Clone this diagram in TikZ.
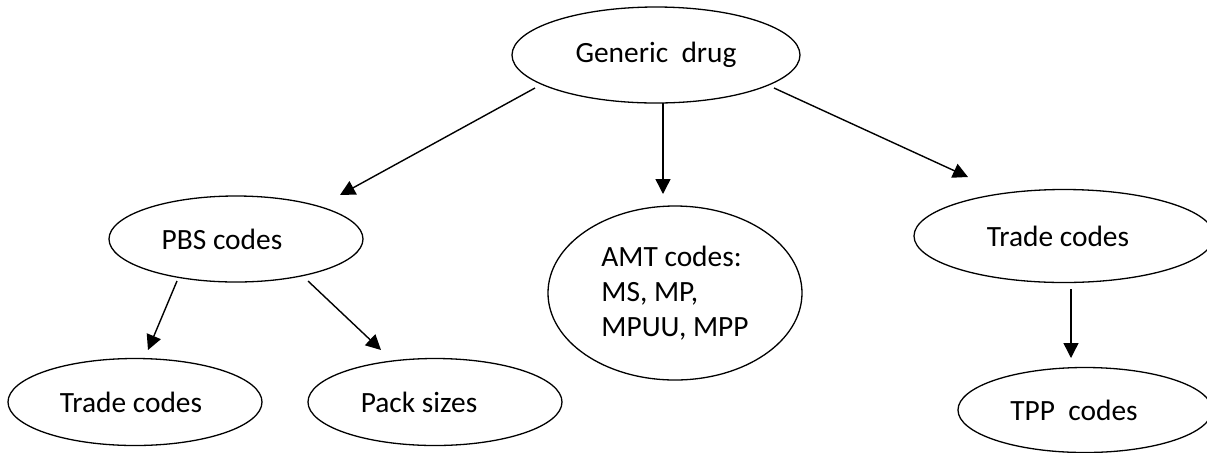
\documentclass[tikz,border=0pt]{standalone}
\usepackage{fontspec}
\setmainfont{Carlito}
\usetikzlibrary{shapes.geometric,arrows.meta,calc}
\tikzstyle{bubble}=[ellipse, draw=black, line width=0.65pt, inner sep=0pt, minimum width=127pt, minimum height=43pt, anchor=center, font=\fontsize{14.7pt}{17.5pt}\selectfont]
\tikzstyle{link}=[line width=0.7pt, -{Triangle[length=7.5pt, width=7.5pt]}]

\begin{document}
\begin{tikzpicture}[x=0.5pt, y=-0.5pt]
	\useasboundingbox (0,0) rectangle (1207,452);
	\clip (0,0) rectangle (1207,452);

	% top level
	\node[bubble, minimum width=144pt, minimum height=48pt](drug) at (656,55){Generic\ \ drug};

	% second level
	\node[bubble](pbs) at (236,239){PBS codes\hspace*{14pt}};
	\node[bubble, minimum height=87pt, align=left](amt) at (675,293){AMT codes:\\MS, MP,\\MPUU, MPP};
	\node[bubble, minimum width=150pt, minimum height=46.5pt](trade) at (1064,236){Trade codes\hspace*{6pt}};

	% third level
	\node[bubble, minimum height=43.5pt](pbstrade) at (135,402){Trade codes\hspace*{4pt}};
	\node[bubble, minimum height=43.5pt](pack) at (435,402){Pack sizes\hspace*{16pt}};
	\node[bubble, minimum height=42.5pt](tpp) at (1085,410){TPP\ \ codes\hspace*{11pt}};

	% arrow ends
	\coordinate (drugL) at ($(drug)+(-121,33)$);
	\coordinate (drugM) at ($(drug)+(7,48)$);
	\coordinate (drugR) at ($(drug)+(118,33)$);
	\coordinate (pbsT) at ($(pbs)+(104,-44)$);
	\coordinate (amtT) at ($(amt)+(-12,-99)$);
	\coordinate (tradeT) at ($(trade)+(-96,-59)$);
	\coordinate (pbsL) at ($(pbs)+(-59,42)$);
	\coordinate (pbsR) at ($(pbs)+(72,42)$);
	\coordinate (pbstradeT) at ($(pbstrade)+(13,-52)$);
	\coordinate (packT) at ($(pack)+(-54,-52)$);
	\coordinate (tradeB) at ($(trade)+(7,53)$);
	\coordinate (tppT) at ($(tpp)+(-14,-52)$);

	\draw[link] (drugL) -- (pbsT);
	\draw[link] (drugM) -- (amtT);
	\draw[link] (drugR) -- (tradeT);
	\draw[link] (pbsL) -- (pbstradeT);
	\draw[link] (pbsR) -- (packT);
	\draw[link] (tradeB) -- (tppT);

\end{tikzpicture}
\end{document}
